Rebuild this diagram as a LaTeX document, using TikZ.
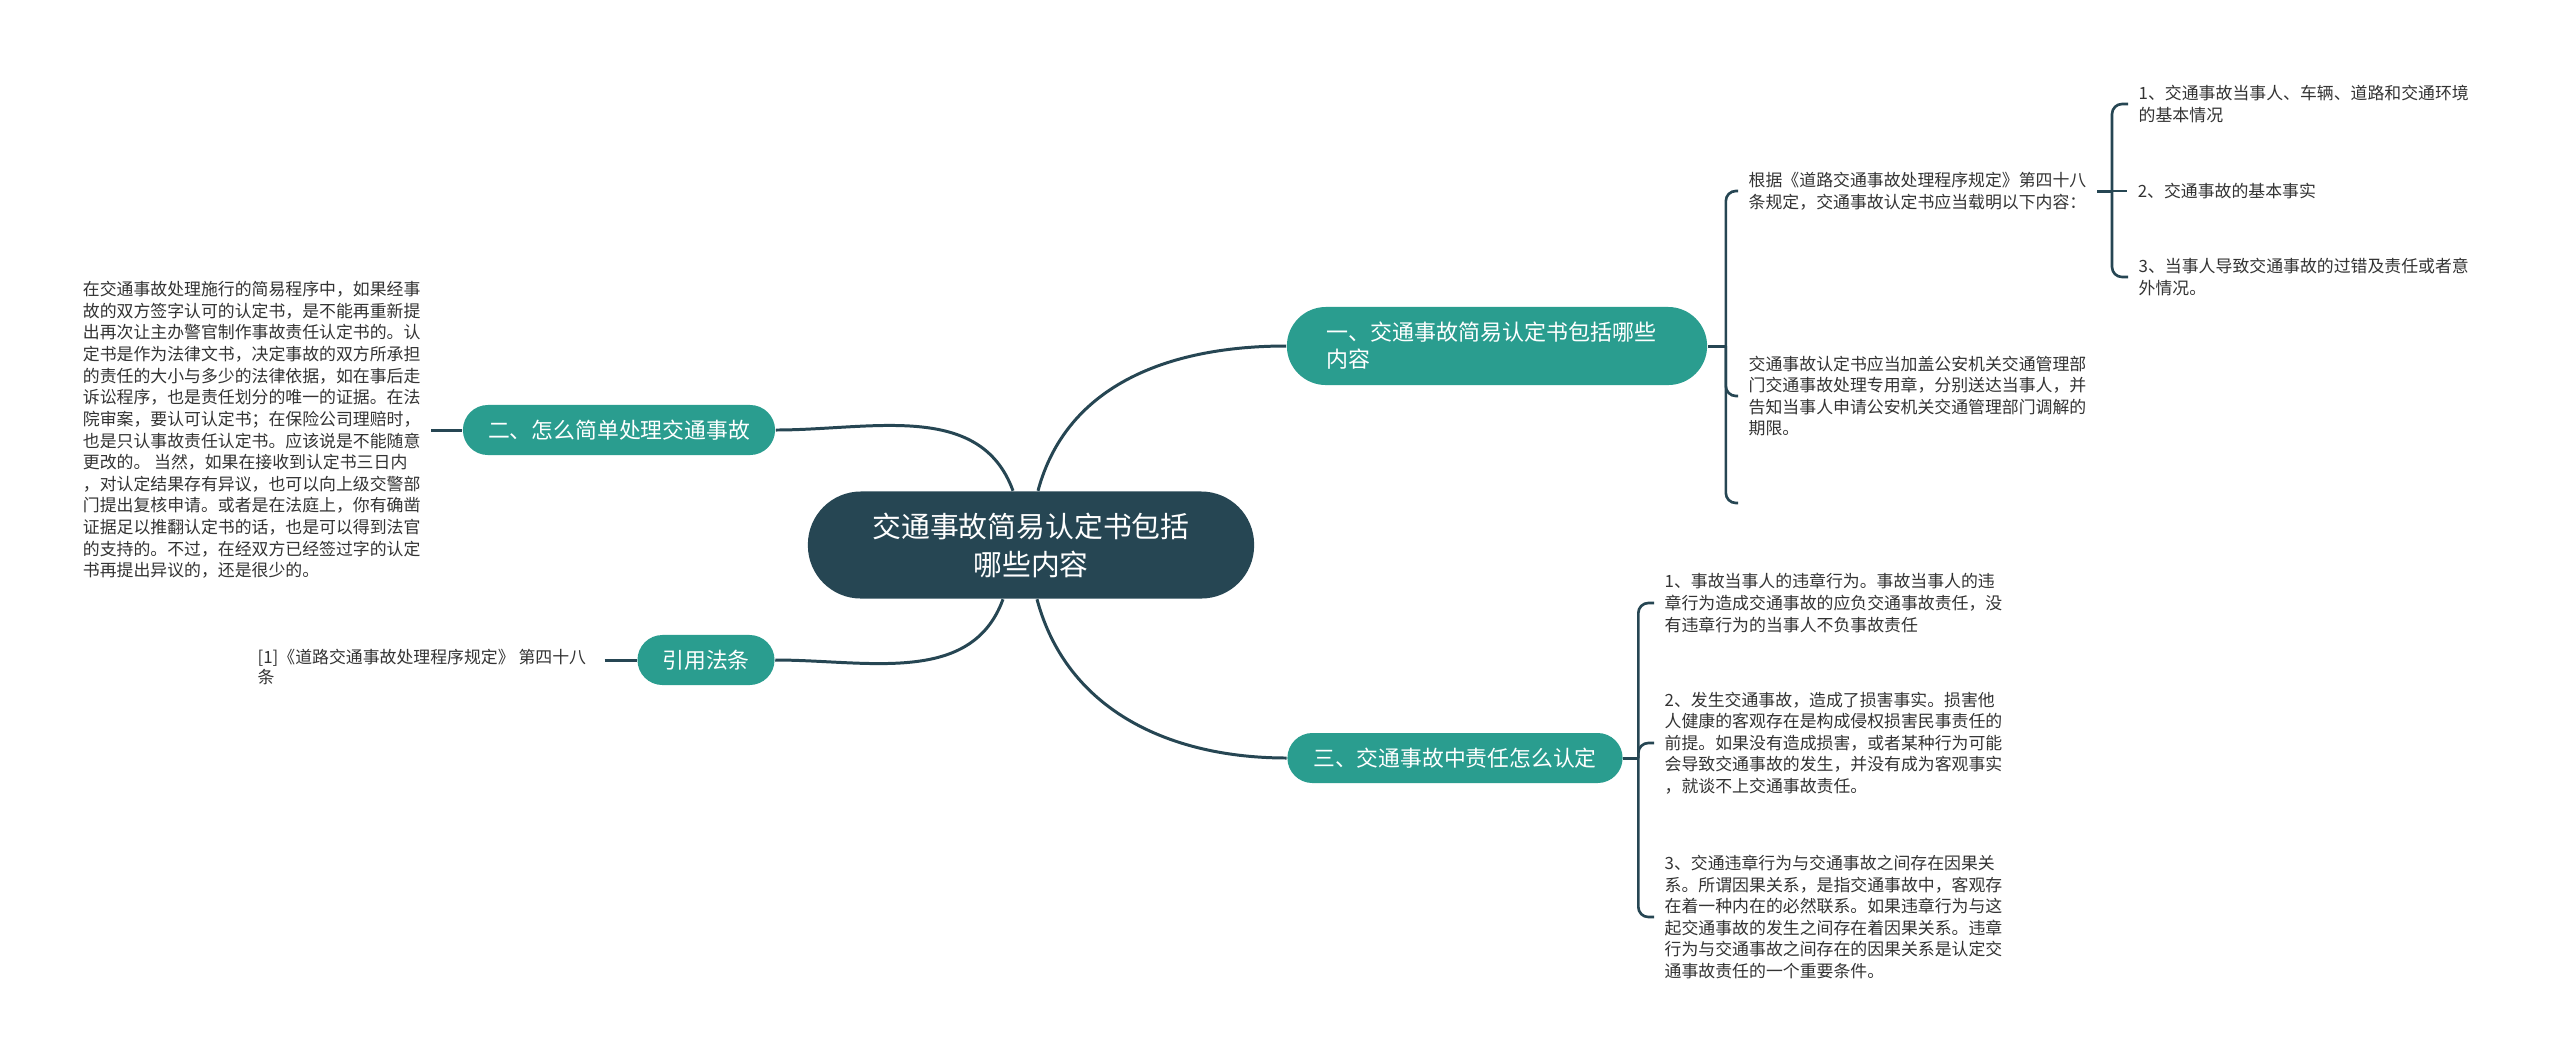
\documentclass[tikz,border=0pt]{standalone}
\usepackage{fontspec}
\setmainfont{Noto Sans CJK SC}
\usetikzlibrary{positioning}
\definecolor{rootblue}{HTML}{264653}
\definecolor{branchteal}{HTML}{2A9D8F}
\definecolor{leafgray}{HTML}{333333}

\begin{document}
\begin{tikzpicture}[
    x=0.01cm, y=-0.01cm,
    root/.style={rectangle, fill=rootblue, text=white, align=center, minimum width=4.46cm, minimum height=1.07cm, rounded corners=0.53cm, font=\fontsize{8.2}{10.8}\selectfont},
    branch/.style={rectangle, fill=branchteal, text=white, minimum height=0.5cm, rounded corners=0.25cm, font=\fontsize{6.2}{7.6}\selectfont},
    leaf/.style={anchor=west, align=left, inner sep=0.1cm, text=leafgray, font=\fontsize{4.8}{6.15}\selectfont},
    link/.style={draw=rootblue, line width=0.85pt},
    brace/.style={draw=rootblue, line width=0.75pt, rounded corners=0.1cm},
]
    \fill[white, use as bounding box] (0,0) rectangle (2560,1063);

    \node[root] (root) at (1031,545) {交通事故简易认定书包括\\哪些内容};
    \node[branch, text width=3.4cm, align=left, inner xsep=0.4cm, minimum height=0.78cm, rounded corners=0.39cm, font=\fontsize{6.25}{7.65}\selectfont] (b1) at (1497,346) {一、交通事故简易认定书包括哪些\\内容};
    \node[branch, minimum width=3.12cm] (b2) at (619,430) {二、怎么简单处理交通事故};
    \node[branch, minimum width=1.37cm] (b4) at (706,660) {引用法条};
    \node[branch, minimum width=3.35cm] (b3) at (1455,758) {三、交通事故中责任怎么认定};

    \node[leaf] (t1a) at (1738,191) {根据《道路交通事故处理程序规定》第四十八\\条规定，交通事故认定书应当载明以下内容：};
    \node[leaf] (t1b) at (1738,396) {交通事故认定书应当加盖公安机关交通管理部\\门交通事故处理专用章，分别送达当事人，并\\告知当事人申请公安机关交通管理部门调解的\\期限。};
    \node[leaf] (t1a1) at (2128,104) {1、交通事故当事人、车辆、道路和交通环境\\的基本情况};
    \node[leaf, right=0.3cm of t1a] (t1a2) {2、交通事故的基本事实};
    \node[leaf] (t1a3) at (2128,277) {3、当事人导致交通事故的过错及责任或者意\\外情况。};

    \node[leaf, left=0.31cm of b2] (t2) {在交通事故处理施行的简易程序中，如果经事\\故的双方签字认可的认定书，是不能再重新提\\出再次让主办警官制作事故责任认定书的。认\\定书是作为法律文书，决定事故的双方所承担\\的责任的大小与多少的法律依据，如在事后走\\诉讼程序，也是责任划分的唯一的证据。在法\\院审案，要认可认定书；在保险公司理赔时，\\也是只认事故责任认定书。应该说是不能随意\\更改的。 当然，如果在接收到认定书三日内\\，对认定结果存有异议，也可以向上级交警部\\门提出复核申请。或者是在法庭上，你有确凿\\证据足以推翻认定书的话，也是可以得到法官\\的支持的。不过，在经双方已经签过字的认定\\书再提出异议的，还是很少的。};
    \node[leaf, font=\fontsize{4.8}{5.9}\selectfont, left=0.4cm of b4, yshift=-0.07cm] (t4) {[1]《道路交通事故处理程序规定》 第四十八\\条};

    \node[leaf] (t3a) at (1654,603) {1、事故当事人的违章行为。事故当事人的违\\章行为造成交通事故的应负交通事故责任，没\\有违章行为的当事人不负事故责任};
    \node[leaf] (t3b) at (1654,743) {2、发生交通事故，造成了损害事实。损害他\\人健康的客观存在是构成侵权损害民事责任的\\前提。如果没有造成损害，或者某种行为可能\\会导致交通事故的发生，并没有成为客观事实\\，就谈不上交通事故责任。};
    \node[leaf] (t3c) at (1654,917) {3、交通违章行为与交通事故之间存在因果关\\系。所谓因果关系，是指交通事故中，客观存\\在着一种内在的必然联系。如果违章行为与这\\起交通事故的发生之间存在着因果关系。违章\\行为与交通事故之间存在的因果关系是认定交\\通事故责任的一个重要条件。};

    \draw[link] ([xshift=0.07cm]root.north) to[out=75, in=180] (b1.west);
    \draw[link] ([xshift=-0.18cm]root.north) to[out=110, in=0] (b2.east);
    \draw[link] ([xshift=-0.28cm]root.south) to[out=-110, in=0] (b4.east);
    \draw[link] ([xshift=0.06cm]root.south) to[out=-75, in=180] (b3.west);

    \draw[link] (t2.east) -- (b2.west);
    \draw[link] ([xshift=0.08cm]t4.east |- b4.west) -- (b4.west);

    \draw[link] (b1.east) -- ++(18,0) coordinate (j1);
    \coordinate (e1) at (1738,503);
    \foreach \t in {t1a,t1b}
        \draw[brace] (j1) |- (\t.west);
    \draw[brace] (j1) |- (e1);

    \draw[link] (t1a.east) -- ++(15,0) coordinate (j1a);
    \foreach \t in {t1a1,t1a3}
        \draw[brace] (j1a) |- (\t.west);
    \draw[brace] (j1a) -- (t1a2.west);

    \draw[link] (b3.east) -- ++(15,0) coordinate (j3);
    \foreach \t in {t3a,t3b,t3c}
        \draw[brace] (j3) |- (\t.west);
\end{tikzpicture}
\end{document}
